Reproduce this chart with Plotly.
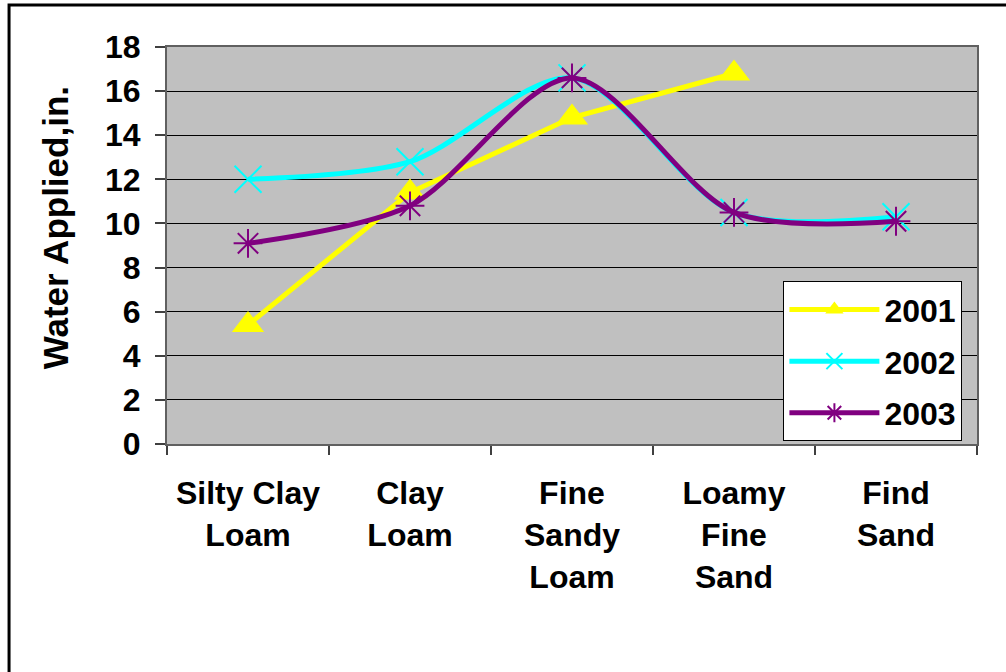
import plotly.graph_objects as go

categories = ["Silty Clay<br>Loam", "Clay<br>Loam", "Fine<br>Sandy<br>Loam", "Loamy<br>Fine<br>Sand", "Find<br>Sand"]
y2001 = [5.4, 11.4, 14.8, 16.8, None]
y2002 = [12.0, 12.8, 16.6, 10.5, 10.3]
y2003 = [9.1, 10.8, 16.6, 10.5, 10.1]
y_ticks = [0, 2, 4, 6, 8, 10, 12, 14, 16, 18]
y_title = "Water Applied,in."

FONT = "Arial, Liberation Sans, sans-serif"

fig = go.Figure()
fig.add_trace(go.Scatter(
    x=categories, y=y2001, name="2001", mode="lines+markers", legendgroup="a",
    line=dict(color="#FFFF00", width=5),
    marker=dict(symbol="triangle-up", size=28, color="#FFFF00"),
))
fig.add_trace(go.Scatter(
    x=categories, y=y2002, name="2002", mode="lines+markers", legendgroup="b",
    line=dict(color="#00FFFF", width=5, shape="spline", smoothing=0.85),
    marker=dict(symbol="x-thin-open", size=27, color="#00FFFF",
                line=dict(color="#00FFFF", width=2)),
))
fig.add_trace(go.Scatter(
    x=categories, y=y2003, name="2003", mode="lines+markers", legendgroup="c",
    line=dict(color="#800080", width=5, shape="spline", smoothing=0.85),
    marker=dict(symbol="asterisk-open", size=24, color="#800080",
                line=dict(color="#800080", width=2)),
))

fig.update_layout(
    width=1006, height=672,
    margin=dict(l=167, r=29, t=47, b=228),
    paper_bgcolor="white", plot_bgcolor="#C0C0C0",
    font=dict(family=FONT, size=32, color="black", weight="bold"),
    showlegend=True,
    hovermode=False,
    legend=dict(
        x=0.761, y=0.41, xanchor="left", yanchor="top",
        bgcolor="white", bordercolor="black", borderwidth=1,
        font=dict(family=FONT, size=32, color="black", weight="bold"),
        itemwidth=90, tracegroupgap=7,
    ),
    xaxis=dict(
        type="category", range=[-0.5, 4.5], tickson="boundaries", ticks="outside", ticklen=9,
        tickcolor="#404040", tickwidth=1.5,
        showgrid=False, showline=True, linecolor="#606060", linewidth=2, mirror=True,
        tickfont=dict(family=FONT, size=32, weight="bold"),
        ticklabelstandoff=20, automargin=False,
    ),
    yaxis=dict(
        range=[0, 18], tickvals=y_ticks, ticks="outside", ticklen=10,
        tickcolor="#404040", tickwidth=1.5,
        showgrid=True, gridcolor="black", gridwidth=1,
        showline=True, linecolor="#606060", linewidth=2, mirror=True,
        zeroline=False,
        tickfont=dict(family=FONT, size=32, weight="bold"),
        ticklabelstandoff=8,
        automargin=False,
    ),
    annotations=[dict(
        text=y_title, textangle=-90, xref="paper", yref="paper",
        x=-0.138, y=0.544, xanchor="center", yanchor="middle", showarrow=False,
        font=dict(family=FONT, size=35, color="black", weight="bold"),
    )],
    shapes=[dict(
        type="rect", xref="paper", yref="paper",
        x0=-0.195, x1=1.06, y0=-0.62, y1=1.106,
        line=dict(color="black", width=3), fillcolor="rgba(0,0,0,0)", layer="above",
    )],
)

fig.write_html(
    "out.html",
    config={"displayModeBar": False},
    post_script="document.body.style.margin='0';document.body.style.overflow='hidden';",
)
